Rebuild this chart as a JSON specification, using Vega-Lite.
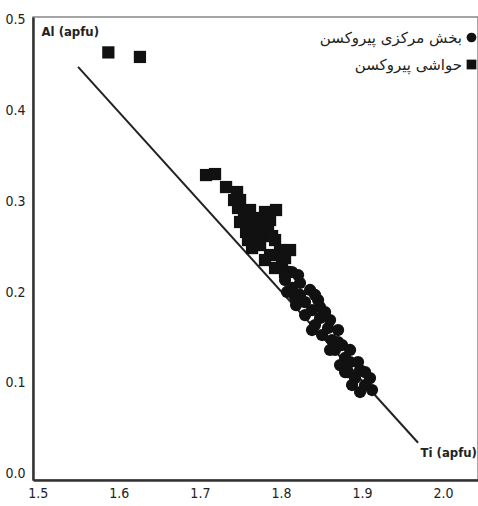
{
  "$schema": "https://vega.github.io/schema/vega-lite/v6.json",
  "width": 445,
  "height": 463,
  "autosize": {"type": "none"},
  "padding": {"left": 33, "top": 17, "right": 0, "bottom": 26},
  "background": "white",
  "config": {
    "view": {"stroke": "#888", "strokeWidth": 1.5},
    "axis": {
      "grid": false,
      "ticks": false,
      "domainColor": "#333",
      "domainWidth": 2.5,
      "labelFont": "DejaVu Sans Condensed, Liberation Sans Narrow, sans-serif",
      "labelFontSize": 14,
      "labelColor": "#222",
      "titleFont": "DejaVu Sans Condensed, Liberation Sans Narrow, sans-serif",
      "titleFontSize": 13,
      "titleFontWeight": "bold",
      "titleColor": "#222"
    },
    "legend": {
      "labelFont": "DejaVu Sans",
      "labelFontSize": 15,
      "labelColor": "#222",
      "labelAlign": "right",
      "labelOffset": -17,
      "symbolSize": 95,
      "rowPadding": 10
    }
  },
  "datasets": {
    "pts": [
      {"Ti": 1.587, "Al": 0.464, "type": "حواشی پیروکسن"},
      {"Ti": 1.626, "Al": 0.459, "type": "حواشی پیروکسن"},
      {"Ti": 1.7076, "Al": 0.3289, "type": "حواشی پیروکسن"},
      {"Ti": 1.7187, "Al": 0.330, "type": "حواشی پیروکسن"},
      {"Ti": 1.7323, "Al": 0.3157, "type": "حواشی پیروکسن"},
      {"Ti": 1.7459, "Al": 0.3102, "type": "حواشی پیروکسن"},
      {"Ti": 1.7496, "Al": 0.3014, "type": "حواشی پیروکسن"},
      {"Ti": 1.7471, "Al": 0.2926, "type": "حواشی پیروکسن"},
      {"Ti": 1.7545, "Al": 0.2849, "type": "حواشی پیروکسن"},
      {"Ti": 1.7496, "Al": 0.2772, "type": "حواشی پیروکسن"},
      {"Ti": 1.7619, "Al": 0.2904, "type": "حواشی پیروکسن"},
      {"Ti": 1.7804, "Al": 0.2882, "type": "حواشی پیروکسن"},
      {"Ti": 1.7866, "Al": 0.2794, "type": "حواشی پیروکسن"},
      {"Ti": 1.7841, "Al": 0.2706, "type": "حواشی پیروکسن"},
      {"Ti": 1.7767, "Al": 0.2628, "type": "حواشی پیروکسن"},
      {"Ti": 1.7681, "Al": 0.2573, "type": "حواشی پیروکسن"},
      {"Ti": 1.7644, "Al": 0.2485, "type": "حواشی پیروکسن"},
      {"Ti": 1.7743, "Al": 0.2518, "type": "حواشی پیروکسن"},
      {"Ti": 1.7928, "Al": 0.2573, "type": "حواشی پیروکسن"},
      {"Ti": 1.7989, "Al": 0.2463, "type": "حواشی پیروکسن"},
      {"Ti": 1.7866, "Al": 0.2408, "type": "حواشی پیروکسن"},
      {"Ti": 1.8014, "Al": 0.2331, "type": "حواشی پیروکسن"},
      {"Ti": 1.7804, "Al": 0.2353, "type": "حواشی پیروکسن"},
      {"Ti": 1.7928, "Al": 0.2265, "type": "حواشی پیروکسن"},
      {"Ti": 1.8051, "Al": 0.2221, "type": "حواشی پیروکسن"},
      {"Ti": 1.7718, "Al": 0.2684, "type": "حواشی پیروکسن"},
      {"Ti": 1.7619, "Al": 0.2772, "type": "حواشی پیروکسن"},
      {"Ti": 1.7693, "Al": 0.2816, "type": "حواشی پیروکسن"},
      {"Ti": 1.7570, "Al": 0.2662, "type": "حواشی پیروکسن"},
      {"Ti": 1.7767, "Al": 0.2772, "type": "حواشی پیروکسن"},
      {"Ti": 1.7891, "Al": 0.2617, "type": "حواشی پیروکسن"},
      {"Ti": 1.8051, "Al": 0.2375, "type": "حواشی پیروکسن"},
      {"Ti": 1.7940, "Al": 0.2904, "type": "حواشی پیروکسن"},
      {"Ti": 1.8113, "Al": 0.2463, "type": "حواشی پیروکسن"},
      {"Ti": 1.7422, "Al": 0.3014, "type": "حواشی پیروکسن"},
      {"Ti": 1.7594, "Al": 0.2573, "type": "حواشی پیروکسن"},
      {"Ti": 1.8051, "Al": 0.2133, "type": "بخش مرکزی پیروکسن"},
      {"Ti": 1.8138, "Al": 0.2045, "type": "بخش مرکزی پیروکسن"},
      {"Ti": 1.8212, "Al": 0.2188, "type": "بخش مرکزی پیروکسن"},
      {"Ti": 1.8236, "Al": 0.1968, "type": "بخش مرکزی پیروکسن"},
      {"Ti": 1.8298, "Al": 0.1890, "type": "بخش مرکزی پیروکسن"},
      {"Ti": 1.8360, "Al": 0.2023, "type": "بخش مرکزی پیروکسن"},
      {"Ti": 1.8187, "Al": 0.1857, "type": "بخش مرکزی پیروکسن"},
      {"Ti": 1.8384, "Al": 0.1802, "type": "بخش مرکزی پیروکسن"},
      {"Ti": 1.8459, "Al": 0.1912, "type": "بخش مرکزی پیروکسن"},
      {"Ti": 1.8483, "Al": 0.1714, "type": "بخش مرکزی پیروکسن"},
      {"Ti": 1.8421, "Al": 0.1637, "type": "بخش مرکزی پیروکسن"},
      {"Ti": 1.8545, "Al": 0.1780, "type": "بخش مرکزی پیروکسن"},
      {"Ti": 1.8582, "Al": 0.1604, "type": "بخش مرکزی پیروکسن"},
      {"Ti": 1.8508, "Al": 0.1527, "type": "بخش مرکزی پیروکسن"},
      {"Ti": 1.8631, "Al": 0.1472, "type": "بخش مرکزی پیروکسن"},
      {"Ti": 1.8706, "Al": 0.1582, "type": "بخش مرکزی پیروکسن"},
      {"Ti": 1.8668, "Al": 0.1362, "type": "بخش مرکزی پیروکسن"},
      {"Ti": 1.8755, "Al": 0.1417, "type": "بخش مرکزی پیروکسن"},
      {"Ti": 1.8792, "Al": 0.1274, "type": "بخش مرکزی پیروکسن"},
      {"Ti": 1.8730, "Al": 0.1196, "type": "بخش مرکزی پیروکسن"},
      {"Ti": 1.8854, "Al": 0.1229, "type": "بخش مرکزی پیروکسن"},
      {"Ti": 1.8829, "Al": 0.1119, "type": "بخش مرکزی پیروکسن"},
      {"Ti": 1.8915, "Al": 0.1053, "type": "بخش مرکزی پیروکسن"},
      {"Ti": 1.8977, "Al": 0.1141, "type": "بخش مرکزی پیروکسن"},
      {"Ti": 1.8878, "Al": 0.0976, "type": "بخش مرکزی پیروکسن"},
      {"Ti": 1.9039, "Al": 0.0976, "type": "بخش مرکزی پیروکسن"},
      {"Ti": 1.9100, "Al": 0.1053, "type": "بخش مرکزی پیروکسن"},
      {"Ti": 1.8977, "Al": 0.0899, "type": "بخش مرکزی پیروکسن"},
      {"Ti": 1.9125, "Al": 0.0921, "type": "بخش مرکزی پیروکسن"},
      {"Ti": 1.8175, "Al": 0.1945, "type": "بخش مرکزی پیروکسن"},
      {"Ti": 1.8298, "Al": 0.1747, "type": "بخش مرکزی پیروکسن"},
      {"Ti": 1.8076, "Al": 0.2001, "type": "بخش مرکزی پیروکسن"},
      {"Ti": 1.8236, "Al": 0.2100, "type": "بخش مرکزی پیروکسن"},
      {"Ti": 1.8422, "Al": 0.1968, "type": "بخش مرکزی پیروکسن"},
      {"Ti": 1.8483, "Al": 0.1835, "type": "بخش مرکزی پیروکسن"},
      {"Ti": 1.8607, "Al": 0.1692, "type": "بخش مرکزی پیروکسن"},
      {"Ti": 1.8706, "Al": 0.1450, "type": "بخش مرکزی پیروکسن"},
      {"Ti": 1.8854, "Al": 0.1362, "type": "بخش مرکزی پیروکسن"},
      {"Ti": 1.8952, "Al": 0.1229, "type": "بخش مرکزی پیروکسن"},
      {"Ti": 1.9039, "Al": 0.1119, "type": "بخش مرکزی پیروکسن"},
      {"Ti": 1.8607, "Al": 0.1362, "type": "بخش مرکزی پیروکسن"},
      {"Ti": 1.8384, "Al": 0.1582, "type": "بخش مرکزی پیروکسن"},
      {"Ti": 1.8138, "Al": 0.2221, "type": "بخش مرکزی پیروکسن"},
      {"Ti": 1.8792, "Al": 0.1119, "type": "بخش مرکزی پیروکسن"}
    ],
    "trend": [
      {"Ti": 1.5496, "Al": 0.448},
      {"Ti": 1.9693, "Al": 0.034}
    ]
  },
  "layer": [
    {
      "data": {"name": "trend"},
      "mark": {"type": "line", "color": "#222", "strokeWidth": 2},
      "encoding": {
        "x": {"field": "Ti", "type": "quantitative"},
        "y": {"field": "Al", "type": "quantitative"}
      }
    },
    {
      "data": {"name": "pts"},
      "mark": {"type": "point", "filled": true, "opacity": 1, "size": 150, "color": "#111"},
      "encoding": {
        "x": {
          "field": "Ti",
          "type": "quantitative",
          "scale": {"domain": [1.494, 2.0433], "nice": false, "zero": false},
          "axis": {
            "values": [1.5, 1.6, 1.7, 1.8, 1.9, 2.0],
            "format": ".1f",
            "labelPadding": 6,
            "title": "Ti (apfu)",
            "titleX": 387,
            "titleY": -28,
            "titleAlign": "left",
            "titleBaseline": "middle",
            "titleAnchor": null
          }
        },
        "y": {
          "field": "Al",
          "type": "quantitative",
          "scale": {"domain": [-0.007, 0.503], "nice": false, "zero": false},
          "axis": {
            "values": [0, 0.1, 0.2, 0.3, 0.4, 0.5],
            "format": ".1f",
            "labelPadding": 8,
            "title": "Al (apfu)",
            "titleAngle": 0,
            "titleX": 8,
            "titleY": 14,
            "titleAlign": "left",
            "titleBaseline": "middle",
            "titleAnchor": null
          }
        },
        "shape": {
          "field": "type",
          "type": "nominal",
          "scale": {"domain": ["بخش مرکزی پیروکسن", "حواشی پیروکسن"], "range": ["circle", "square"]},
          "legend": {"title": null, "orient": "none", "legendX": 431, "legendY": 13}
        }
      }
    }
  ]
}
